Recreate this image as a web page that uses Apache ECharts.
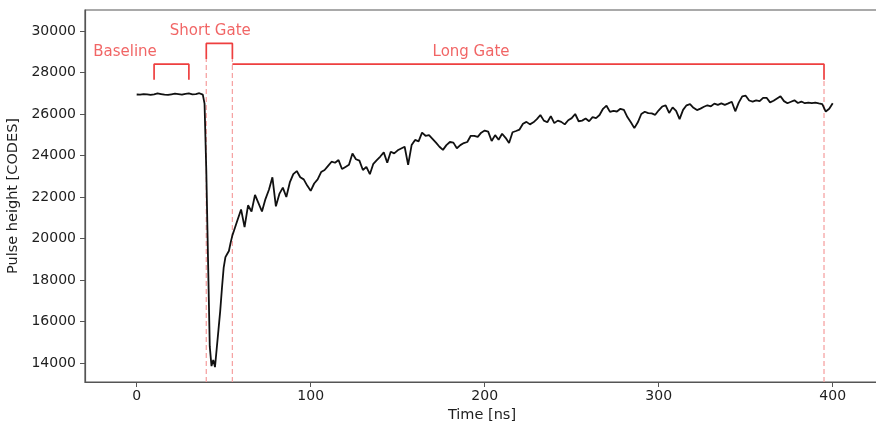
<!DOCTYPE html>
<html>
<head>
<meta charset="utf-8">
<style>
  html, body { margin: 0; padding: 0; background: #ffffff; }
  #chart { width: 876px; height: 423px; }
</style>
<script src="https://cdn.jsdelivr.net/npm/echarts@6/dist/echarts.min.js"></script>
</head>
<body>
<div id="chart"></div>
<script>
// Digitised detector pulse: baseline, fast negative spike and slow recovery.
// Sampling is 2 ns, with 1 ns samples across the fast edge of the pulse.
const baselineHeights = [
  26940, 26930, 26960, 26950, 26920, 26950, 26990, 26960, 26930, 26920,
  26950, 26980, 26960, 26930, 26970, 26990, 26950, 26960, 27000
]; // t = 0 .. 36 ns, step 2
const pulseHeights = [
  26990, 26930, 26500, 23300, 19000, 14800, 13850, 14150, 13800, 14700,
  15600, 16500, 17600, 18600, 19100, 19250, 19400, 19800, 20150, 20400,
  20650
]; // t = 37 .. 57 ns, step 1
const tailHeights = [
  20900, 21400, 20550, 21600, 21300, 22100, 21700, 21300, 21900, 22350,
  22950, 21550, 22150, 22450, 22000, 22700, 23100, 23250, 22950, 22850,
  22550, 22300, 22650, 22850, 23200, 23300, 23500, 23700, 23650, 23780,
  23350, 23450, 23550, 24100, 23820, 23750, 23300, 23450, 23100, 23600,
  23780, 23950, 24150, 23650, 24180, 24100, 24250, 24340, 24420, 23550,
  24500, 24750, 24680, 25100, 24950, 24980, 24800, 24620, 24420, 24270,
  24500, 24650, 24620, 24350, 24500, 24600, 24650, 24950, 24950, 24900,
  25100, 25200, 25150, 24700, 24980, 24760, 25050, 24850, 24600, 25120,
  25180, 25250, 25530, 25620, 25500, 25600, 25750, 25950, 25680, 25600,
  25900, 25560, 25680, 25620, 25500, 25700, 25800, 26000, 25650, 25680,
  25780, 25650, 25850, 25800, 25950, 26250, 26400, 26100, 26150, 26120,
  26250, 26200, 25850, 25600, 25320, 25600, 26000, 26110, 26040, 26030,
  25960, 26180, 26360, 26420, 26050, 26320, 26150, 25750, 26200, 26420,
  26480, 26300, 26190, 26260, 26350, 26420, 26370, 26500, 26440, 26510,
  26440, 26510, 26590, 26130, 26550, 26850, 26880, 26650, 26600, 26660,
  26620, 26780, 26780, 26560, 26640, 26750, 26860, 26620, 26520, 26590,
  26660, 26530, 26600, 26520, 26550, 26520, 26550, 26510, 26480, 26120,
  26250, 26520
]; // t = 58 .. 400 ns, step 2

// Integration windows in ns
const baselineGate = [10, 30];
const shortGate = [40, 55];
const longGate = [55, 395];
// Bracket heights in codes
const baselineBracketTop = 28400;
const shortBracketTop = 29400;
const longBracketTop = 28400;
const bracketLeg = 750;

const xTicks = [0, 100, 200, 300, 400];
const yTicks = [14000, 16000, 18000, 20000, 22000, 24000, 26000, 28000, 30000];

const X_MIN = -29.7, X_MAX = 426.6;
const Y_MIN = 13084, Y_MAX = 31012;

function span(start, end, step) {
  const out = [];
  for (let t = start; t <= end; t += step) out.push(t);
  return out;
}
const times = span(0, 36, 2).concat(span(37, 57, 1), span(58, 400, 2));
const heights = baselineHeights.concat(pulseHeights, tailHeights);
const trace = times.map((t, i) => [t, heights[i]]);

const FONT = 'DejaVu Sans';
const RED = '#ee3f3f';
const PINK = '#f6a3a3';
const AXIS = '#555555';
const TEXT = '#1e1e1e';

function bracket(gate, top) {
  return [[gate[0], top - bracketLeg], [gate[0], top], [gate[1], top], [gate[1], top - bracketLeg]];
}
function solid(data) {
  return {
    type: 'line', data: data, showSymbol: false, symbol: 'none', silent: true,
    lineStyle: { color: RED, width: 1.7 }, z: 4
  };
}
function dashed(x, top) {
  return {
    type: 'line', data: [[x, Y_MIN], [x, top]], showSymbol: false, symbol: 'none', silent: true,
    lineStyle: { color: PINK, width: 1.3, type: [5, 3] }, z: 2
  };
}
function label(text, x, y) {
  return {
    type: 'scatter', data: [[x, y]], symbolSize: 0.1, silent: true,
    itemStyle: { color: 'rgba(0,0,0,0)' },
    label: {
      show: true, position: 'right', distance: 0, formatter: text,
      color: RED, fontSize: 15, fontFamily: FONT
    }, z: 5
  };
}

const chart = echarts.init(document.getElementById('chart'), null, { renderer: 'canvas' });
chart.setOption({
  animation: false,
  backgroundColor: '#ffffff',
  grid: {
    left: 85, right: -3, top: 10, bottom: 41,
    outerBoundsMode: 'none', containLabel: false,
    show: true, borderColor: AXIS, borderWidth: 1.2, backgroundColor: 'transparent'
  },
  xAxis: {
    type: 'value', min: X_MIN, max: X_MAX,
    name: 'Time [ns]', nameLocation: 'middle', nameGap: 22,
    nameTextStyle: { fontFamily: FONT, fontSize: 14.5, color: TEXT },
    axisLine: { show: true, onZero: false, lineStyle: { color: AXIS, width: 1.2 } },
    axisTick: { show: true, length: 5, customValues: xTicks, lineStyle: { color: AXIS } },
    axisLabel: {
      customValues: xTicks, margin: 7, fontFamily: FONT, fontSize: 14, color: TEXT,
      formatter: (v) => String(v)
    },
    splitLine: { show: false }
  },
  yAxis: {
    type: 'value', min: Y_MIN, max: Y_MAX,
    name: 'Pulse height [CODES]', nameLocation: 'middle', nameGap: 57,
    nameTextStyle: { fontFamily: FONT, fontSize: 14.5, color: TEXT },
    axisLine: { show: true, onZero: false, lineStyle: { color: AXIS, width: 1.2 } },
    axisTick: { show: true, length: 5, customValues: yTicks, lineStyle: { color: AXIS } },
    axisLabel: {
      customValues: yTicks, margin: 9, fontFamily: FONT, fontSize: 14, color: TEXT,
      formatter: (v) => String(v)
    },
    splitLine: { show: false }
  },
  series: [
    dashed(shortGate[0], shortBracketTop - bracketLeg),
    dashed(shortGate[1], shortBracketTop - bracketLeg),
    dashed(longGate[1], longBracketTop - bracketLeg),
    {
      type: 'line', data: trace, showSymbol: false, symbol: 'none', silent: true,
      lineStyle: { color: '#111111', width: 1.8 }, z: 3
    },
    solid(bracket(baselineGate, baselineBracketTop)),
    solid(bracket(shortGate, shortBracketTop)),
    solid([[longGate[0], longBracketTop], [longGate[1], longBracketTop], [longGate[1], longBracketTop - bracketLeg]]),
    label('Baseline', -25, 29000),
    label('Short Gate', 19, 30000),
    label('Long Gate', 170, 29000)
  ]
});
</script>
</body>
</html>
